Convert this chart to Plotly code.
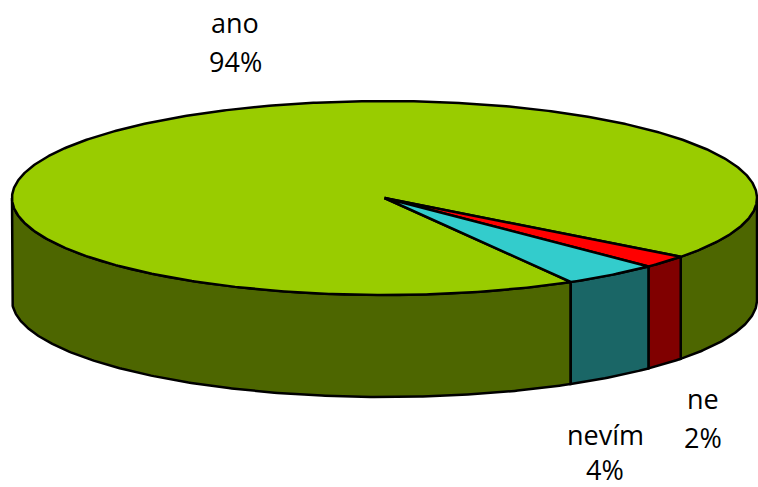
import numpy as np
import plotly.graph_objects as go

# ---- data ----
labels = ["ano", "ne", "nevím"]
values = [93.7, 2.1, 4.2]          # shares
pct_labels = ["94%", "2%", "4%"]
top_colors = ["#99CC00", "#FF0000", "#33CCCC"]
side_colors = ["#4D6600", "#800000", "#1A6666"]

# ---- geometry (pixel space of the window) ----
W, H = 758, 487
cx, cy = 384.5, 198
rx, ry = 372.5, 97
depth = 102
start_deg = 60.0  # clockwise from 3 o'clock (screen y downward)


def pt(theta_deg, dz=0.0):
    t = np.radians(theta_deg)
    return cx + rx * np.cos(t), cy + ry * np.sin(t) + dz


def arc(a, b, n=None, dz=0.0):
    if n is None:
        n = max(4, int(abs(b - a) * 2))
    th = np.linspace(a, b, n)
    xs, ys = pt(th, dz)
    return list(xs), list(ys)


total = float(sum(values))
bounds = []
acc = start_deg
for v in values:
    sweep = v / total * 360.0
    bounds.append((acc, acc + sweep))
    acc += sweep

fig = go.Figure()
line = dict(color="black", width=2.5)

# side walls (front half only: angles in [0,180] mod 360)
for (a, b), col in zip(bounds, side_colors):
    for off in (0.0, 360.0, -360.0):
        lo = max(a, off + 0.0)
        hi = min(b, off + 180.0)
        if hi - lo > 1e-6:
            xt, yt = arc(lo, hi)
            xb, yb = arc(hi, lo, dz=depth)
            xs = xt + xb + [xt[0]]
            ys = yt + yb + [yt[0]]
            fig.add_trace(go.Scatter(x=xs, y=ys, mode="lines", fill="toself",
                                     fillcolor=col, line=line, hoverinfo="skip",
                                     showlegend=False))

# top faces
for (a, b), col in zip(bounds, top_colors):
    xa, ya = arc(a, b)
    xs = [cx] + xa + [cx]
    ys = [cy] + ya + [cy]
    fig.add_trace(go.Scatter(x=xs, y=ys, mode="lines", fill="toself",
                             fillcolor=col, line=line, hoverinfo="skip",
                             showlegend=False))

# labels
label_pos = {"ano": (235, 22, 61), "ne": (703, 398, 437), "nevím": (605, 434, 469)}
font = dict(family="Open Sans, Lato, sans-serif", size=27, color="black")
for lab, pc in zip(labels, pct_labels):
    x, y1, y2 = label_pos[lab]
    fig.add_annotation(x=x, y=y1, text=lab, showarrow=False, xref="x", yref="y",
                       xanchor="center", yanchor="middle", font=font, borderpad=0)
    fig.add_annotation(x=x, y=y2, text=pc, showarrow=False, xref="x", yref="y",
                       xanchor="center", yanchor="middle", font=font, borderpad=0)

fig.update_layout(
    width=W, height=H,
    margin=dict(l=0, r=0, t=0, b=0),
    paper_bgcolor="white", plot_bgcolor="white",
    xaxis=dict(range=[0, W], visible=False, fixedrange=True),
    yaxis=dict(range=[H, 0], visible=False, fixedrange=True),
    showlegend=False,
)

fig.write_html("out.html", config={"displayModeBar": False},
               post_script="document.body.style.margin='0';document.body.style.overflow='hidden';")
